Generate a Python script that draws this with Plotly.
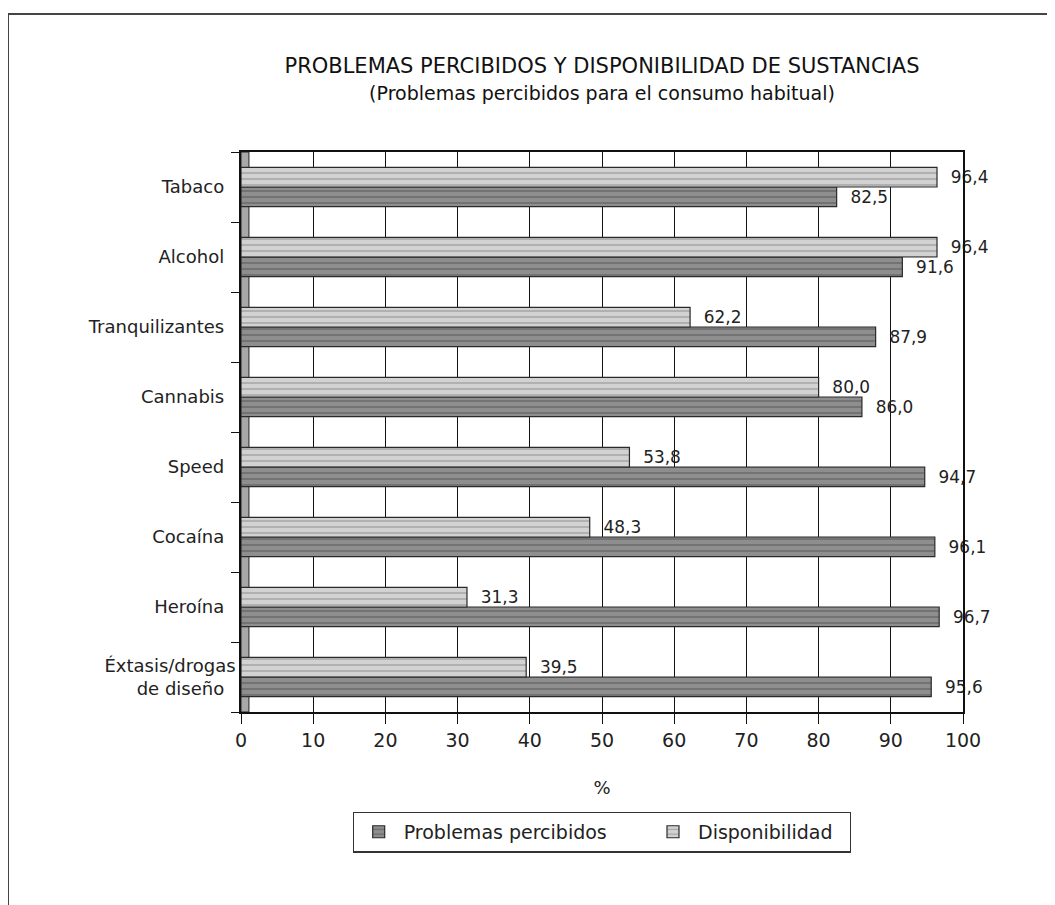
import plotly.graph_objects as go

categorias = ['Tabaco', 'Alcohol', 'Tranquilizantes', 'Cannabis', 'Speed',
              'Cocaína', 'Heroína', 'Éxtasis/drogas<br>de diseño']
problemas = [82.5, 91.6, 87.9, 86.0, 94.7, 96.1, 96.7, 95.6]
disponibilidad = [96.4, 96.4, 62.2, 80.0, 53.8, 48.3, 31.3, 39.5]
ticks_x = [0, 10, 20, 30, 40, 50, 60, 70, 80, 90, 100]

FONT = 'DejaVu Sans'


def fmt(v):
    return '  ' + f'{v:.1f}'.replace('.', ',')


fig = go.Figure()
fig.add_trace(go.Bar(
    y=categorias, x=problemas, orientation='h', name='Problemas percibidos      ',
    marker=dict(color='#8e8e8e', line=dict(color='#2a2a2a', width=1.2),
                pattern=dict(shape='-', size=6, solidity=0.25, fgcolor='#444444')),
    text=[fmt(v) for v in problemas], textposition='outside',
    textfont=dict(size=19, color='#222222', family=FONT), cliponaxis=False,
))
fig.add_trace(go.Bar(
    y=categorias, x=disponibilidad, orientation='h', name='Disponibilidad  ',
    marker=dict(color='#d2d2d2', line=dict(color='#2a2a2a', width=1.2),
                pattern=dict(shape='-', size=6, solidity=0.25, fgcolor='#777777')),
    text=[fmt(v) for v in disponibilidad], textposition='outside',
    textfont=dict(size=19, color='#222222', family=FONT), cliponaxis=False,
))

fig.update_layout(
    width=1055, height=905,
    paper_bgcolor='white', plot_bgcolor='white',
    font=dict(family=FONT, size=18, color='#222222'),
    barmode='group', bargap=0.44, bargroupgap=0,
    margin=dict(l=233, r=100, t=144, b=201),
    title=dict(
        text='PROBLEMAS PERCIBIDOS Y DISPONIBILIDAD DE SUSTANCIAS<br>'
             '<span style="font-size:19px">(Problemas percibidos para el consumo habitual)</span>',
        x=0.5, xref='paper', xanchor='center', y=0.928, yanchor='middle',
        font=dict(size=21, family=FONT, color='#111111'),
    ),
    xaxis=dict(
        range=[0, 100], tickvals=ticks_x, showgrid=True, gridcolor='#111111', gridwidth=1.3,
        ticks='outside', ticklen=10, tickcolor='#111111', showline=True, linecolor='#111111',
        linewidth=1.5, mirror=True, zeroline=False, tickfont=dict(size=19),
        title=dict(text='%', standoff=32, font=dict(size=18)),
    ),
    yaxis=dict(
        categoryorder='array', categoryarray=categorias[::-1],
        ticks='outside', tickson='boundaries', ticklen=8, tickcolor='#111111',
        showline=True, linecolor='#111111', linewidth=1.5, mirror=True, showgrid=False,
        ticksuffix='  ', tickfont=dict(size=18),
    ),
    legend=dict(
        orientation='h', x=0.5, xanchor='center', y=-0.178, yanchor='top',
        bordercolor='#333333', borderwidth=1.2, bgcolor='white',
        font=dict(size=19), itemwidth=40, traceorder='normal',
    ),
    showlegend=True,
)

# outer frame (left and top edges only, as in the source page)
fig.add_shape(type='path', xref='paper', yref='paper',
              path='M -0.3227,-0.36 L -0.3227,1.2464 L 1.2,1.2464',
              line=dict(color='#444444', width=2))
# grey side wall of the pseudo-3D plot
fig.add_shape(type='rect', xref='paper', yref='paper', x0=0, x1=0.011, y0=0, y1=1,
              fillcolor='#a8a8a8', line=dict(color='#222222', width=1), layer='below')

fig.write_html('out.html')
